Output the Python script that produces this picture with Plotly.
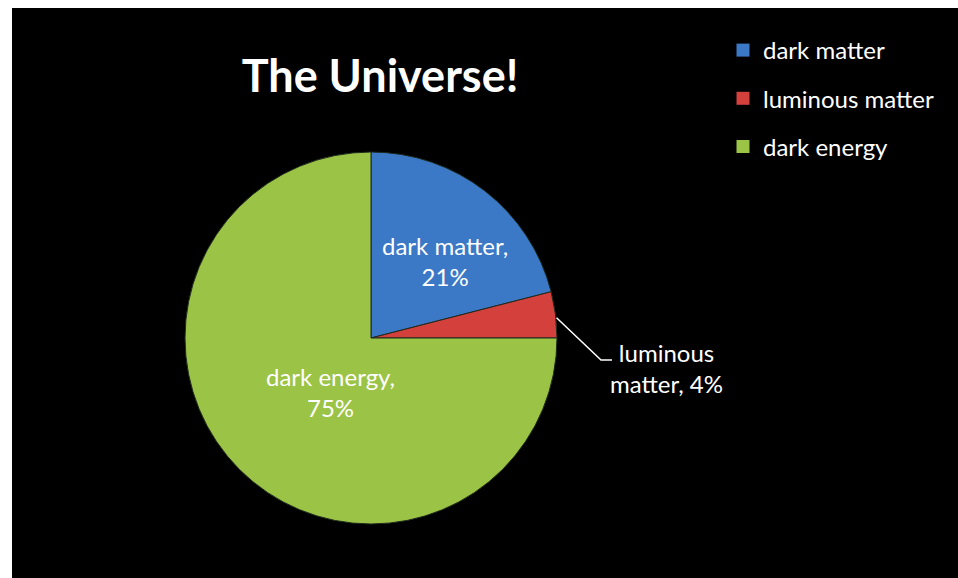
import math
import plotly.graph_objects as go

labels = ["dark matter", "luminous matter", "dark energy"]
values = [21, 4, 75]
colors = ["#3B78C6", "#D4403C", "#9BC346"]
title_text = "The Universe!"

W, H = 958, 578
FONT = "Lato, 'Noto Sans', sans-serif"
FS = 24

# pie geometry in pixels (from top-left)
cx, cy, r = 371, 338, 186

fig = go.Figure()
fig.add_trace(go.Pie(
    labels=labels, values=values, sort=False, direction="clockwise", rotation=0,
    marker=dict(colors=colors, line=dict(color="#1e2a1e", width=1)),
    textinfo="none", hoverinfo="label+percent", showlegend=False,
    domain=dict(x=[(cx - r) / W, (cx + r) / W], y=[1 - (cy + r) / H, 1 - (cy - r) / H]),
))

# legend via dummy traces so spacing can be controlled
for lab, col in zip(labels, colors):
    fig.add_trace(go.Scatter(
        x=[None], y=[None], mode="markers", name=lab, legendgroup=lab,
        marker=dict(symbol="square", size=13, color=col),
    ))

def px(x, y):
    return x / W, 1 - y / H

annotations = []
# inside labels
for lab, val, (lx, ly) in [(labels[0], values[0], (445, 261)), (labels[2], values[2], (330, 392))]:
    ax_, ay_ = px(lx, ly)
    annotations.append(dict(x=ax_, y=ay_, xref="paper", yref="paper", showarrow=False,
                            xanchor="center", yanchor="middle",
                            text=f"{lab},<br>{val}%", font=dict(family=FONT, size=FS, color="white"),
                            align="center"))
# outside label for luminous matter
lum_words = labels[1].split(" ")
ox, oy = px(666, 368)
annotations.append(dict(x=ox, y=oy, xref="paper", yref="paper", showarrow=False,
                        xanchor="center", yanchor="middle",
                        text=f"{lum_words[0]}<br>{lum_words[1]}, {values[1]}%",
                        font=dict(family=FONT, size=FS, color="white"), align="center"))

# leader line from mid-angle of luminous slice
total = sum(values)
mid = (values[0] + values[1] / 2) / total * 360
ang = math.radians(90 - mid)
ex, ey = cx + r * math.cos(ang), cy - r * math.sin(ang)
p0 = px(ex + 1, ey + 3)
p1 = px(601, 360)
p2 = px(612, 360)

shapes = [
    dict(type="rect", xref="paper", yref="paper", x0=12 / W, x1=1, y0=0, y1=1 - 8 / H,
         fillcolor="black", line=dict(width=0), layer="below"),
    dict(type="path", xref="paper", yref="paper",
         path=f"M {p0[0]},{p0[1]} L {p1[0]},{p1[1]} L {p2[0]},{p2[1]}",
         line=dict(color="white", width=1.5)),
]

fig.update_layout(
    width=W, height=H, autosize=False,
    margin=dict(l=0, r=0, t=0, b=0),
    paper_bgcolor="white", plot_bgcolor="rgba(0,0,0,0)",
    xaxis=dict(visible=False), yaxis=dict(visible=False),
    title=dict(text=f"<b>{title_text}</b>", x=380 / W, xanchor="center", y=1 - 76 / H, yanchor="middle",
               font=dict(family=FONT, size=45, color="white")),
    legend=dict(x=723 / W, xanchor="left", y=1 - 28 / H, yanchor="top",
                font=dict(family=FONT, size=FS, color="white"), bgcolor="rgba(0,0,0,0)",
                tracegroupgap=14, itemwidth=30),
    annotations=annotations, shapes=shapes,
)

fig.write_html("out.html", config={"displayModeBar": False},
               post_script="document.body.style.margin='0px';document.body.style.overflow='hidden';")
